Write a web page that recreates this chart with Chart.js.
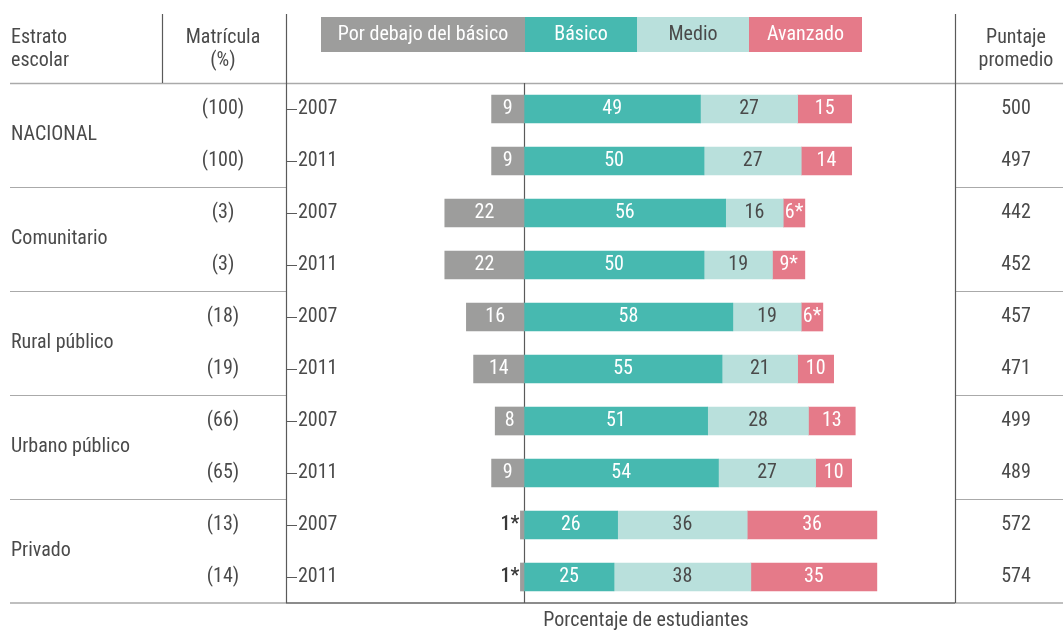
<!DOCTYPE html>
<html>
<head>
<meta charset="utf-8">
<script src="https://cdn.jsdelivr.net/npm/chart.js@4.4.1/dist/chart.umd.min.js"></script>
<style>
  html, body { margin: 0; padding: 0; background: #fff; }
  #wrap { width: 1063px; height: 630px; }
</style>
</head>
<body>
<div id="wrap"><canvas id="chart" width="1063" height="630"></canvas></div>
<script>
const strata = ['NACIONAL', 'Comunitario', 'Rural público', 'Urbano público', 'Privado'];
const years = ['2007', '2011', '2007', '2011', '2007', '2011', '2007', '2011', '2007', '2011'];
const matricula = ['(100)', '(100)', '(3)', '(3)', '(18)', '(19)', '(66)', '(65)', '(13)', '(14)'];
const porDebajo = [9, 9, 22, 22, 16, 14, 8, 9, 1, 1];
const basico = [49, 50, 56, 50, 58, 55, 51, 54, 26, 25];
const medio = [27, 27, 16, 19, 19, 21, 28, 27, 36, 38];
const avanzado = [15, 14, 6, 9, 6, 10, 13, 10, 36, 35];
const porDebajoStar = [false, false, false, false, false, false, false, false, true, true];
const avanzadoStar = [false, false, true, true, true, false, false, false, false, false];
const puntaje = [500, 497, 442, 452, 457, 471, 499, 489, 572, 574];
const levels = ['Por debajo del básico', 'Básico', 'Medio', 'Avanzado'];

const FONT = '"Roboto Condensed", Roboto, sans-serif';
const SIZE = '20px ';
const colors = ['#9d9d9c', '#47b9b0', '#b9e0dc', '#e57a89'];
const labelColors = ['#ffffff', '#ffffff', '#4a4a4a', '#ffffff'];
const textColor = '#4a4a4a';
const darkLine = '#5a5a5a';
const lightLine = '#aaaaaa';

// chart area: x 286..955, y 83..603, zero at x=524
const rowKeys = years.map((y, i) => i);

const tablePlugin = {
    id: 'tablePlugin',
    beforeDatasetsDraw(chart) {
        const { ctx, chartArea: a } = chart;
        const xs = chart.scales.x;
        ctx.save();
        // light horizontal lines
        ctx.strokeStyle = lightLine;
        ctx.lineWidth = 1.5;
        ctx.beginPath();
        ctx.moveTo(10, a.top + 0.5); ctx.lineTo(1063, a.top + 0.5);
        ctx.moveTo(10, a.bottom); ctx.lineTo(1063, a.bottom);
        ctx.stroke();
        // group separators
        ctx.lineWidth = 1;
        const rowH = (a.bottom - a.top) / years.length;
        ctx.beginPath();
        for (let g = 1; g < strata.length; g++) {
            const y = Math.round(a.top + g * 2 * rowH) + 0.5;
            ctx.moveTo(10, y); ctx.lineTo(a.left, y);
            ctx.moveTo(a.right, y); ctx.lineTo(1063, y);
        }
        ctx.stroke();
        // dark vertical lines
        ctx.strokeStyle = darkLine;
        ctx.lineWidth = 1.2;
        ctx.beginPath();
        ctx.moveTo(a.left + 0.5, 14); ctx.lineTo(a.left + 0.5, a.bottom);
        ctx.moveTo(a.right + 0.5, 14); ctx.lineTo(a.right + 0.5, a.bottom);
        ctx.moveTo(162.5, 14); ctx.lineTo(162.5, a.top);
        ctx.moveTo(a.left, a.bottom); ctx.lineTo(a.right, a.bottom);
        const z = Math.round(xs.getPixelForValue(0)) + 0.5;
        ctx.moveTo(z, a.top); ctx.lineTo(z, a.bottom);
        ctx.stroke();
        ctx.restore();
    },
    afterDatasetsDraw(chart) {
        const { ctx, chartArea: a } = chart;
        const ys = chart.scales.y;
        ctx.save();
        ctx.font = SIZE + FONT;
        ctx.fillStyle = textColor;
        ctx.textBaseline = 'middle';

        // headers
        ctx.textAlign = 'left';
        ctx.fillText('Estrato', 11, 38);
        ctx.fillText('escolar', 11, 61);
        ctx.textAlign = 'center';
        ctx.fillText('Matrícula', 223, 38);
        ctx.fillText('(%)', 223, 61);
        ctx.fillText('Puntaje', 1016, 38);
        ctx.fillText('promedio', 1016, 61);

        // legend boxes
        const legendX = [321, 525, 637, 749, 862];
        levels.forEach((lv, i) => {
            ctx.fillStyle = colors[i];
            ctx.fillRect(legendX[i], 17, legendX[i + 1] - legendX[i], 35);
            ctx.fillStyle = labelColors[i];
            ctx.fillText(lv, (legendX[i] + legendX[i + 1]) / 2, 35);
        });

        // rows
        years.forEach((yr, i) => {
            const y = ys.getPixelForValue(i);
            ctx.fillStyle = textColor;
            ctx.textAlign = 'center';
            ctx.fillText(matricula[i], 223, y);
            ctx.fillText(String(puntaje[i]), 1016, y);
            ctx.textAlign = 'left';
            ctx.fillText(yr, a.left + 12, y);
            ctx.strokeStyle = darkLine;
            ctx.lineWidth = 1;
            ctx.beginPath();
            ctx.moveTo(a.left, Math.round(y) + 0.5);
            ctx.lineTo(a.left + 11, Math.round(y) + 0.5);
            ctx.stroke();
        });

        // strata names
        ctx.textAlign = 'left';
        ctx.fillStyle = textColor;
        strata.forEach((s, g) => {
            const y = (ys.getPixelForValue(g * 2) + ys.getPixelForValue(g * 2 + 1)) / 2;
            ctx.fillText(s, 11, y);
        });

        // value labels
        const stars = [porDebajoStar, null, null, avanzadoStar];
        chart.data.datasets.forEach((ds, di) => {
            const meta = chart.getDatasetMeta(di);
            meta.data.forEach((bar, i) => {
                const v = Math.abs(ds.data[i]);
                const txt = v + (stars[di] && stars[di][i] ? '*' : '');
                const left = Math.min(bar.x, bar.base);
                const right = Math.max(bar.x, bar.base);
                if (right - left < 20) {
                    ctx.fillStyle = '#383838';
                    ctx.textAlign = 'right';
                    ctx.font = '500 ' + SIZE + FONT;
                    ctx.fillText(txt, left - 1, bar.y);
                    ctx.font = SIZE + FONT;
                } else {
                    ctx.fillStyle = labelColors[di];
                    ctx.textAlign = 'center';
                    ctx.fillText(txt, (left + right) / 2, bar.y);
                }
            });
        });

        // axis title
        ctx.fillStyle = textColor;
        ctx.textAlign = 'center';
        ctx.fillText('Porcentaje de estudiantes', 646, 621);
        ctx.restore();
    }
};

new Chart(document.getElementById('chart'), {
    type: 'bar',
    data: {
        labels: rowKeys,
        datasets: [
            { label: levels[0], data: porDebajo.map(v => -v), backgroundColor: colors[0] },
            { label: levels[1], data: basico, backgroundColor: colors[1] },
            { label: levels[2], data: medio, backgroundColor: colors[2] },
            { label: levels[3], data: avanzado, backgroundColor: colors[3] },
        ],
    },
    options: {
        indexAxis: 'y',
        responsive: false,
        animation: false,
        devicePixelRatio: 1,
        layout: { padding: { left: 286, right: 108, top: 83, bottom: 27 } },
        datasets: { bar: { barThickness: 28, borderWidth: 0 } },
        scales: {
            x: { stacked: true, min: -66.1, max: 119.7, display: false },
            y: { stacked: true, display: false },
        },
        plugins: {
            legend: { display: false },
            tooltip: { enabled: false },
        },
    },
    plugins: [tablePlugin],
});
</script>
</body>
</html>
